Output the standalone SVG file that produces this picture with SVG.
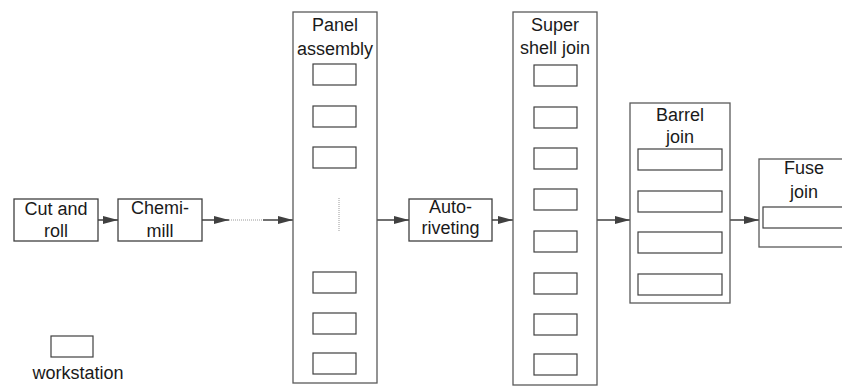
<svg xmlns="http://www.w3.org/2000/svg" width="842" height="386" viewBox="0 0 842 386">
<defs>
<marker id="arr" viewBox="0 0 15 8" refX="15" refY="4" markerWidth="15" markerHeight="8" markerUnits="userSpaceOnUse" orient="auto">
<path d="M0,0 L15,4 L0,8 Z" fill="#404040"/>
</marker>
<style>
.box{fill:#fff;stroke:#404040;stroke-width:1.3}
.col{fill:#fff;stroke:#5a5a5a;stroke-width:1.3}
.ws{fill:#fff;stroke:#404040;stroke-width:1.2}
.t{font-family:"Liberation Sans",Arial,sans-serif;font-size:18px;fill:#1a1a1a;text-anchor:middle}
.c{fill:none;stroke:#404040;stroke-width:1.5}
.dot{fill:none;stroke:#9a9a9a;stroke-width:1;stroke-dasharray:1 1}
</style>
</defs>
<rect width="842" height="386" fill="#fff"/>

<g id="connectors">
<path class="c" d="M98,220 H118" marker-end="url(#arr)"/>
<path class="c" d="M202,220 H229" marker-end="url(#arr)"/>
<path class="dot" d="M229,220 H263"/>
<path class="c" d="M263,220 H293" marker-end="url(#arr)"/>
<path class="c" d="M377,220 H409" marker-end="url(#arr)"/>
<path class="c" d="M492,220 H513" marker-end="url(#arr)"/>
<path class="c" d="M597,220 H630" marker-end="url(#arr)"/>
<path class="c" d="M730,220 H759" marker-end="url(#arr)"/>
</g>

<g id="cut-and-roll">
<rect class="box" x="14" y="199" width="84" height="42"/>
<text class="t" x="56" y="215">Cut and</text>
<text class="t" x="56" y="237">roll</text>
</g>

<g id="chemi-mill">
<rect class="box" x="118" y="199" width="84" height="42"/>
<text class="t" x="160" y="214">Chemi-</text>
<text class="t" x="160" y="237">mill</text>
</g>

<g id="panel-assembly">
<rect class="col" x="293" y="12" width="84" height="371"/>
<text class="t" x="335" y="31">Panel</text>
<text class="t" x="335" y="55">assembly</text>
<rect class="ws" x="313" y="64" width="43" height="21"/>
<rect class="ws" x="313" y="106" width="43" height="21"/>
<rect class="ws" x="313" y="147" width="43" height="21"/>
<path class="dot" d="M339,198 V232"/>
<rect class="ws" x="313" y="272" width="43" height="21"/>
<rect class="ws" x="313" y="313" width="43" height="21"/>
<rect class="ws" x="313" y="353" width="43" height="21"/>
</g>

<g id="auto-riveting">
<rect class="box" x="409" y="199" width="83" height="42"/>
<text class="t" x="450.5" y="213">Auto-</text>
<text class="t" x="450.5" y="234">riveting</text>
</g>

<g id="super-shell-join">
<rect class="col" x="513" y="12" width="84" height="373"/>
<text class="t" x="555" y="31">Super</text>
<text class="t" x="555" y="54">shell join</text>
<rect class="ws" x="534" y="65" width="43" height="21"/>
<rect class="ws" x="534" y="107" width="43" height="21"/>
<rect class="ws" x="534" y="148" width="43" height="21"/>
<rect class="ws" x="534" y="189" width="43" height="21"/>
<rect class="ws" x="534" y="231" width="43" height="21"/>
<rect class="ws" x="534" y="273" width="43" height="21"/>
<rect class="ws" x="534" y="314" width="43" height="21"/>
<rect class="ws" x="534" y="354" width="43" height="21"/>
</g>

<g id="barrel-join">
<rect class="col" x="630" y="103" width="100" height="200"/>
<text class="t" x="680" y="121">Barrel</text>
<text class="t" x="680" y="143">join</text>
<rect class="ws" x="638" y="149" width="84" height="21"/>
<rect class="ws" x="638" y="191" width="84" height="21"/>
<rect class="ws" x="638" y="232" width="84" height="21"/>
<rect class="ws" x="638" y="274" width="84" height="21"/>
</g>

<g id="fuse-join">
<rect class="col" x="759" y="159" width="92" height="88"/>
<text class="t" x="804" y="174">Fuse</text>
<text class="t" x="804" y="198">join</text>
<rect class="ws" x="763" y="207" width="86" height="21"/>
</g>

<g id="legend">
<rect class="ws" x="51" y="336" width="42" height="21"/>
<text class="t" x="78" y="379">workstation</text>
</g>
</svg>
